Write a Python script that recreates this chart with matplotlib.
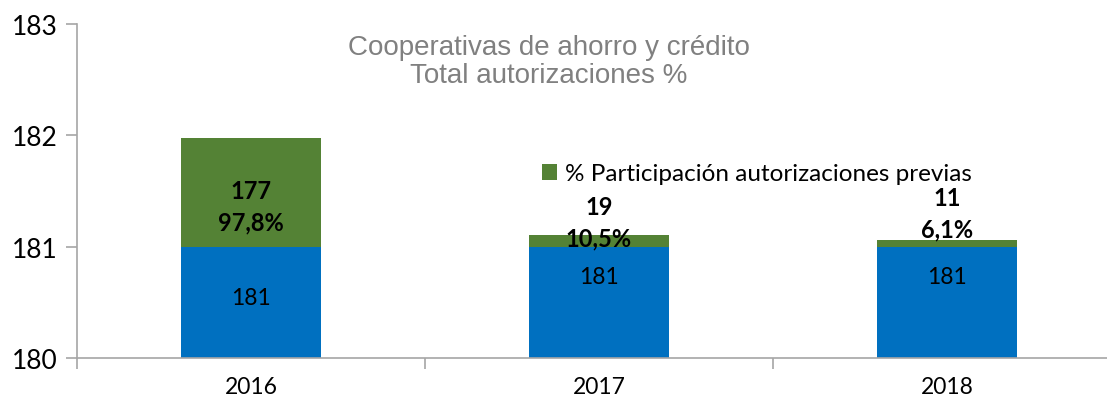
import matplotlib
matplotlib.use("Agg")
import matplotlib.pyplot as plt
from matplotlib.ticker import FixedLocator

years = ["2016", "2017", "2018"]
base_values = [181, 181, 181]
pct_share = [0.978, 0.105, 0.061]
count_labels = ["177", "19", "11"]
pct_labels = ["97,8%", "10,5%", "6,1%"]
base_labels = ["181", "181", "181"]
y_ticks = [180, 181, 182, 183]
legend_label = "% Participación autorizaciones previas"
title_text = "Cooperativas de ahorro y crédito\nTotal autorizaciones %"

BLUE = "#0070C0"
GREEN = "#548235"
AXIS = "#A6A6A6"
FONT = ["Lato", "DejaVu Sans"]

fig = plt.figure(figsize=(11.07, 4.02), dpi=100)
ax = fig.add_axes([77 / 1107, 43 / 402, 1044 / 1107, 334 / 402])

x = list(range(len(years)))
width = 0.4
ax.bar(x, [v - 180 for v in base_values], bottom=180, width=width, color=BLUE, zorder=2)
gb = ax.bar(x, pct_share, bottom=base_values, width=width, color=GREEN, zorder=2,
            label=legend_label)

ax.set_xlim(-0.5, 2.5)
ax.set_ylim(180, 183)
ax.set_yticks(y_ticks)
ax.set_yticklabels([str(t) for t in y_ticks], fontsize=19, family=FONT)
ax.set_xticks(x)
ax.set_xticklabels(years, fontsize=16.5, family=FONT)
ax.xaxis.set_minor_locator(FixedLocator([-0.5, 0.5, 1.5, 2.5]))
ax.tick_params(axis="x", which="major", length=0, pad=13)
ax.tick_params(axis="x", which="minor", length=8, color=AXIS, width=1.2)
ax.tick_params(axis="y", which="major", length=8, color=AXIS, width=1.2, pad=6)

for s in ["top", "right"]:
    ax.spines[s].set_visible(False)
for s in ["left", "bottom"]:
    ax.spines[s].set_color(AXIS)
    ax.spines[s].set_linewidth(1.2)

# blue labels
blue_offsets = [5, 26, 26]
for i, (b, lab) in enumerate(zip(base_values, base_labels)):
    ax.annotate(lab, (i, 180 + (b - 180) / 2), xytext=(0, blue_offsets[i]),
                textcoords="offset pixels", ha="center", va="center",
                fontsize=16.5, family=FONT, color="black", zorder=3)

# green labels
green_offsets = [-14, 19, 30]
for i, (b, p) in enumerate(zip(base_values, pct_share)):
    ax.annotate(count_labels[i] + "\n" + pct_labels[i], (i, b + p / 2),
                xytext=(0, green_offsets[i]), textcoords="offset pixels",
                ha="center", va="center", fontsize=17, fontweight="bold",
                family=FONT, color="black", linespacing=1.45, zorder=3)

fig.text(549 / 1107, 1 - 62 / 402, title_text, ha="center", va="center",
         fontsize=20, color="#808080", family=["Liberation Sans", "DejaVu Sans"],
         linespacing=1.1)

leg = ax.legend(handles=[gb], loc="center", bbox_to_anchor=(757 / 1107, 1 - 175 / 402),
                bbox_transform=fig.transFigure, frameon=False,
                prop={"family": FONT, "size": 17.5}, handlelength=0.6, handleheight=0.6,
                handletextpad=0.35, borderpad=0)

fig.savefig("out.png", dpi=100)
